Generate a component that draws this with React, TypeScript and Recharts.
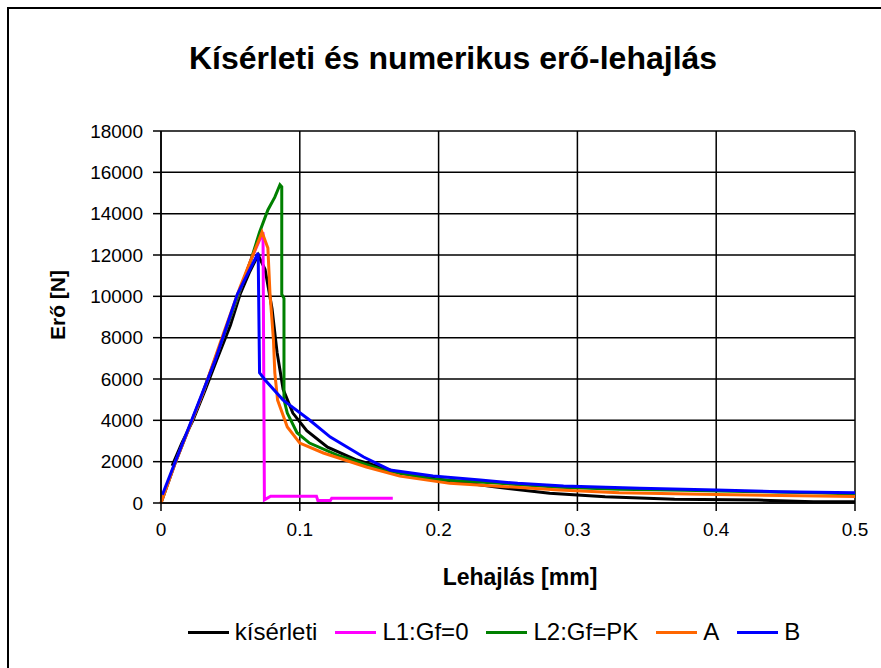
import React from 'react';
import { LineChart, Line, XAxis, YAxis, CartesianGrid } from 'recharts';

type Pt = { x: number; y: number };

const xTicks = [0, 0.1, 0.2, 0.3, 0.4, 0.5];
const yTicks = [0, 2000, 4000, 6000, 8000, 10000, 12000, 14000, 16000, 18000];

const kiserleti: Pt[] = [
  { x: 0.008, y: 1800 }, { x: 0.015, y: 2900 }, { x: 0.023, y: 4000 }, { x: 0.032, y: 5500 },
  { x: 0.04, y: 6900 }, { x: 0.05, y: 8600 }, { x: 0.057, y: 10100 }, { x: 0.064, y: 11200 },
  { x: 0.07, y: 12000 }, { x: 0.075, y: 11300 }, { x: 0.08, y: 9400 }, { x: 0.0836, y: 7300 },
  { x: 0.088, y: 5500 }, { x: 0.095, y: 4350 }, { x: 0.105, y: 3500 }, { x: 0.12, y: 2700 },
  { x: 0.141, y: 2080 }, { x: 0.172, y: 1450 }, { x: 0.2, y: 1150 }, { x: 0.24, y: 780 },
  { x: 0.28, y: 470 }, { x: 0.32, y: 300 }, { x: 0.37, y: 180 }, { x: 0.43, y: 140 },
  { x: 0.47, y: 65 }, { x: 0.5, y: 60 },
];

const l1: Pt[] = [
  { x: 0, y: 0 }, { x: 0.01, y: 1900 }, { x: 0.03, y: 5300 }, { x: 0.05, y: 9000 },
  { x: 0.065, y: 11800 }, { x: 0.0735, y: 13100 }, { x: 0.0745, y: 150 }, { x: 0.079, y: 330 },
  { x: 0.112, y: 330 }, { x: 0.113, y: 120 }, { x: 0.122, y: 120 }, { x: 0.123, y: 230 },
  { x: 0.167, y: 230 },
];

const l2: Pt[] = [
  { x: 0, y: 0 }, { x: 0.01, y: 1900 }, { x: 0.03, y: 5300 }, { x: 0.05, y: 9000 },
  { x: 0.065, y: 11800 }, { x: 0.071, y: 13100 }, { x: 0.077, y: 14180 }, { x: 0.082, y: 14800 },
  { x: 0.0857, y: 15400 }, { x: 0.087, y: 15300 }, { x: 0.087, y: 10100 }, { x: 0.0886, y: 9900 },
  { x: 0.0886, y: 5000 }, { x: 0.091, y: 4350 }, { x: 0.098, y: 3400 }, { x: 0.107, y: 2900 },
  { x: 0.127, y: 2320 }, { x: 0.16, y: 1600 }, { x: 0.196, y: 1150 }, { x: 0.244, y: 950 },
  { x: 0.287, y: 760 }, { x: 0.33, y: 660 }, { x: 0.377, y: 620 }, { x: 0.42, y: 560 },
  { x: 0.47, y: 500 }, { x: 0.5, y: 440 },
];

const seriesA: Pt[] = [
  { x: 0, y: 0 }, { x: 0.01, y: 1900 }, { x: 0.03, y: 5300 }, { x: 0.045, y: 8200 },
  { x: 0.057, y: 10450 }, { x: 0.065, y: 11800 }, { x: 0.0728, y: 13100 }, { x: 0.077, y: 12340 },
  { x: 0.0785, y: 10160 }, { x: 0.081, y: 7900 }, { x: 0.082, y: 6300 }, { x: 0.084, y: 4980 },
  { x: 0.091, y: 3680 }, { x: 0.1, y: 2900 }, { x: 0.117, y: 2420 }, { x: 0.148, y: 1740 },
  { x: 0.172, y: 1300 }, { x: 0.208, y: 950 }, { x: 0.256, y: 760 }, { x: 0.287, y: 630 },
  { x: 0.33, y: 500 }, { x: 0.39, y: 420 }, { x: 0.46, y: 355 }, { x: 0.5, y: 320 },
];

const seriesB: Pt[] = [
  { x: 0.001, y: 400 }, { x: 0.01, y: 1950 }, { x: 0.023, y: 4160 }, { x: 0.039, y: 6900 },
  { x: 0.055, y: 10100 }, { x: 0.07, y: 12100 }, { x: 0.071, y: 6300 }, { x: 0.075, y: 5950 },
  { x: 0.088, y: 4980 }, { x: 0.107, y: 4015 }, { x: 0.122, y: 3190 }, { x: 0.146, y: 2225 },
  { x: 0.165, y: 1600 }, { x: 0.196, y: 1310 }, { x: 0.23, y: 1110 }, { x: 0.257, y: 950 },
  { x: 0.29, y: 820 }, { x: 0.345, y: 710 }, { x: 0.4, y: 630 }, { x: 0.445, y: 550 },
  { x: 0.5, y: 500 },
];

const series = [
  { name: 'kísérleti', data: kiserleti, color: '#000000' },
  { name: 'L1:Gf=0', data: l1, color: '#ff00ff' },
  { name: 'L2:Gf=PK', data: l2, color: '#008000' },
  { name: 'A', data: seriesA, color: '#ff6600' },
  { name: 'B', data: seriesB, color: '#0000ff' },
];

const font = '"Liberation Sans", Arial, sans-serif';

export default function App() {
  return (
    <div style={{ position: 'absolute', left: 0, top: 0, width: 881, height: 668, overflow: 'hidden', background: '#fff', fontFamily: font }}>
      <div style={{ position: 'absolute', left: 7, top: 7, width: 900, height: 700, border: '2px solid #000' }} />
      <div style={{ position: 'absolute', left: 0, top: 40, width: 906, textAlign: 'center', fontSize: 32, fontWeight: 'bold' }}>
        Kísérleti és numerikus erő-lehajlás
      </div>
      <div style={{ position: 'absolute', left: 58, top: 305, transform: 'translate(-50%, -50%) rotate(-90deg)', fontSize: 21, fontWeight: 'bold', whiteSpace: 'nowrap' }}>
        Erő [N]
      </div>
      <div style={{ position: 'absolute', left: 0, top: 564, width: 1040, textAlign: 'center', fontSize: 23, fontWeight: 'bold' }}>
        Lehajlás [mm]
      </div>
      <LineChart width={881} height={668} margin={{ top: 131, right: 26, bottom: 125, left: 0 }} style={{ position: 'absolute', left: 0, top: 0 }}>
        <CartesianGrid stroke="#000" strokeWidth={1.5} />
        <XAxis
          type="number"
          dataKey="x"
          domain={[0, 0.5]}
          ticks={xTicks}
          height={40}
          tickSize={8}
          tickMargin={12}
          stroke="#000"
          strokeWidth={1.5}
          tick={{ fill: '#000', fontSize: 19, fontFamily: font }}
          allowDuplicatedCategory={false}
        />
        <YAxis
          type="number"
          domain={[0, 18000]}
          ticks={yTicks}
          width={161}
          tickSize={8}
          tickMargin={10}
          stroke="#000"
          strokeWidth={1.5}
          interval={0}
          tick={{ fill: '#000', fontSize: 19, fontFamily: font }}
        />
        {series.map((s) => (
          <Line
            key={s.name}
            data={s.data}
            dataKey="y"
            name={s.name}
            type="linear"
            stroke={s.color}
            strokeWidth={3}
            dot={false}
            activeDot={false}
            isAnimationActive={false}
          />
        ))}
      </LineChart>
      <div style={{ position: 'absolute', left: 0, top: 618, width: 988, display: 'flex', justifyContent: 'center', fontSize: 24, lineHeight: '28px' }}>
        {series.map((s, i) => (
          <div key={s.name} style={{ display: 'flex', alignItems: 'center', marginLeft: i === 0 ? 0 : 18 }}>
            <div style={{ width: 41, height: 3, background: s.color, marginRight: 6 }} />
            <span>{s.name}</span>
          </div>
        ))}
      </div>
    </div>
  );
}
